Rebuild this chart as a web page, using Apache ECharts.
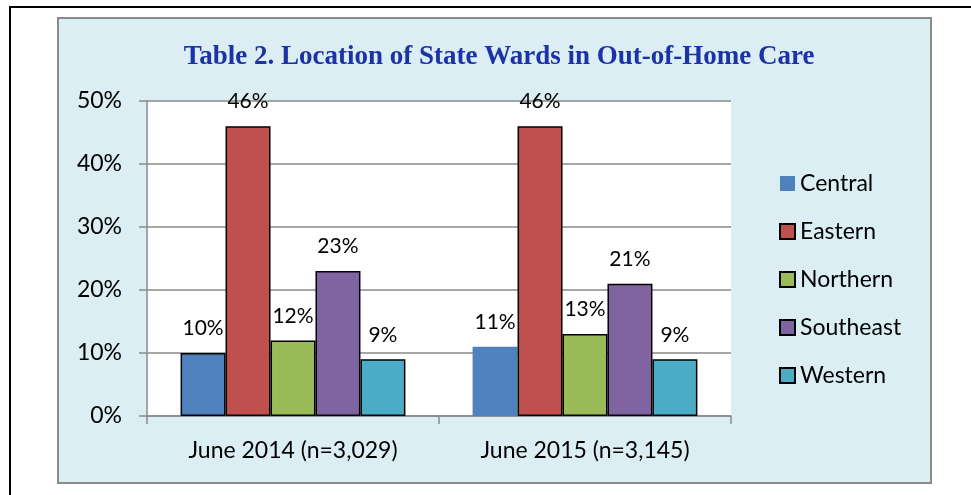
<!DOCTYPE html>
<html>
<head>
<meta charset="utf-8">
<script src="https://cdn.jsdelivr.net/npm/echarts@6/dist/echarts.min.js"></script>
<style>
  html, body { margin: 0; padding: 0; background: #fff; }
  #chart { width: 971px; height: 495px; }
</style>
</head>
<body>
<div id="chart"></div>
<script>
// data
var categories = ['June 2014 (n=3,029)', 'June 2015 (n=3,145)'];
var regions = ['Central', 'Eastern', 'Northern', 'Southeast', 'Western'];
var central = [10, 11];
var eastern = [46, 46];
var northern = [12, 13];
var southeast = [23, 21];
var western = [9, 9];
var yTicks = [0, 10, 20, 30, 40, 50];

var colors = ['#4F81BD', '#C0504D', '#9BBB59', '#8064A2', '#4BACC6'];
var values = [central, eastern, northern, southeast, western];

var myChart = echarts.init(document.getElementById('chart'));

var series = regions.map(function (name, i) {
    var data = values[i].map(function (v, j) {
        // only the 2014 Central bar has an outline in the original
        if (i === 0 && j === 0) {
            return { value: v, itemStyle: { borderColor: '#000', borderWidth: 1.5 } };
        }
        return v;
    });
    return {
        name: name,
        type: 'bar',
        barGap: '0%',
        barCategoryGap: '23%',
        data: data,
        itemStyle: {
            color: colors[i],
            borderColor: '#000',
            borderWidth: i === 0 ? 0 : 1.5
        },
        label: {
            show: true,
            position: 'top',
            distance: 14,
            color: '#000',
            fontFamily: 'Lato',
            fontSize: 21,
            formatter: '{c}%'
        }
    };
});

var option = {
    animation: false,
    graphic: [
        {
            type: 'polyline',
            z: -10,
            shape: { points: [[10, 495], [10, 7], [971, 7]] },
            style: { fill: null, stroke: '#000', lineWidth: 2 }
        },
        {
            type: 'rect',
            z: -9,
            shape: { x: 58, y: 18, width: 873, height: 465 },
            style: { fill: '#DAEEF3', stroke: '#8a8a8a', lineWidth: 2 }
        }
    ],
    title: {
        text: 'Table 2. Location of State Wards in Out-of-Home Care',
        left: 494,
        textAlign: 'center',
        top: 39,
        textStyle: {
            fontFamily: 'Liberation Serif',
            fontWeight: 'bold',
            fontSize: 27,
            color: '#1C32A6'
        }
    },
    legend: {
        orient: 'vertical',
        left: 774,
        top: 167,
        icon: 'rect',
        itemWidth: 15,
        itemHeight: 15,
        itemGap: 25,
        data: regions,
        textStyle: {
            fontFamily: 'Lato',
            fontSize: 23,
            lineHeight: 23,
            color: '#000'
        }
    },
    grid: {
        left: 147,
        top: 101,
        right: 240,
        bottom: 79,
        show: true,
        backgroundColor: '#fff',
        borderWidth: 0
    },
    xAxis: {
        type: 'category',
        data: categories,
        axisLine: { lineStyle: { color: '#8a8a8a', width: 1.5 } },
        axisTick: { show: true, length: 8, lineStyle: { color: '#8a8a8a', width: 1.5 } },
        axisLabel: {
            margin: 23,
            color: '#000',
            fontFamily: 'Lato',
            fontSize: 23
        }
    },
    yAxis: {
        type: 'value',
        min: yTicks[0],
        max: yTicks[yTicks.length - 1],
        interval: 10,
        axisLine: { show: true, lineStyle: { color: '#8a8a8a', width: 1.5 } },
        axisTick: { show: true, length: 8, lineStyle: { color: '#8a8a8a', width: 1.5 } },
        splitLine: { lineStyle: { color: '#8a8a8a', width: 1.5 } },
        axisLabel: {
            margin: 25,
            color: '#000',
            fontFamily: 'Lato',
            fontSize: 23,
            formatter: '{value}%'
        }
    },
    series: series
};

myChart.setOption(option);
</script>
</body>
</html>
